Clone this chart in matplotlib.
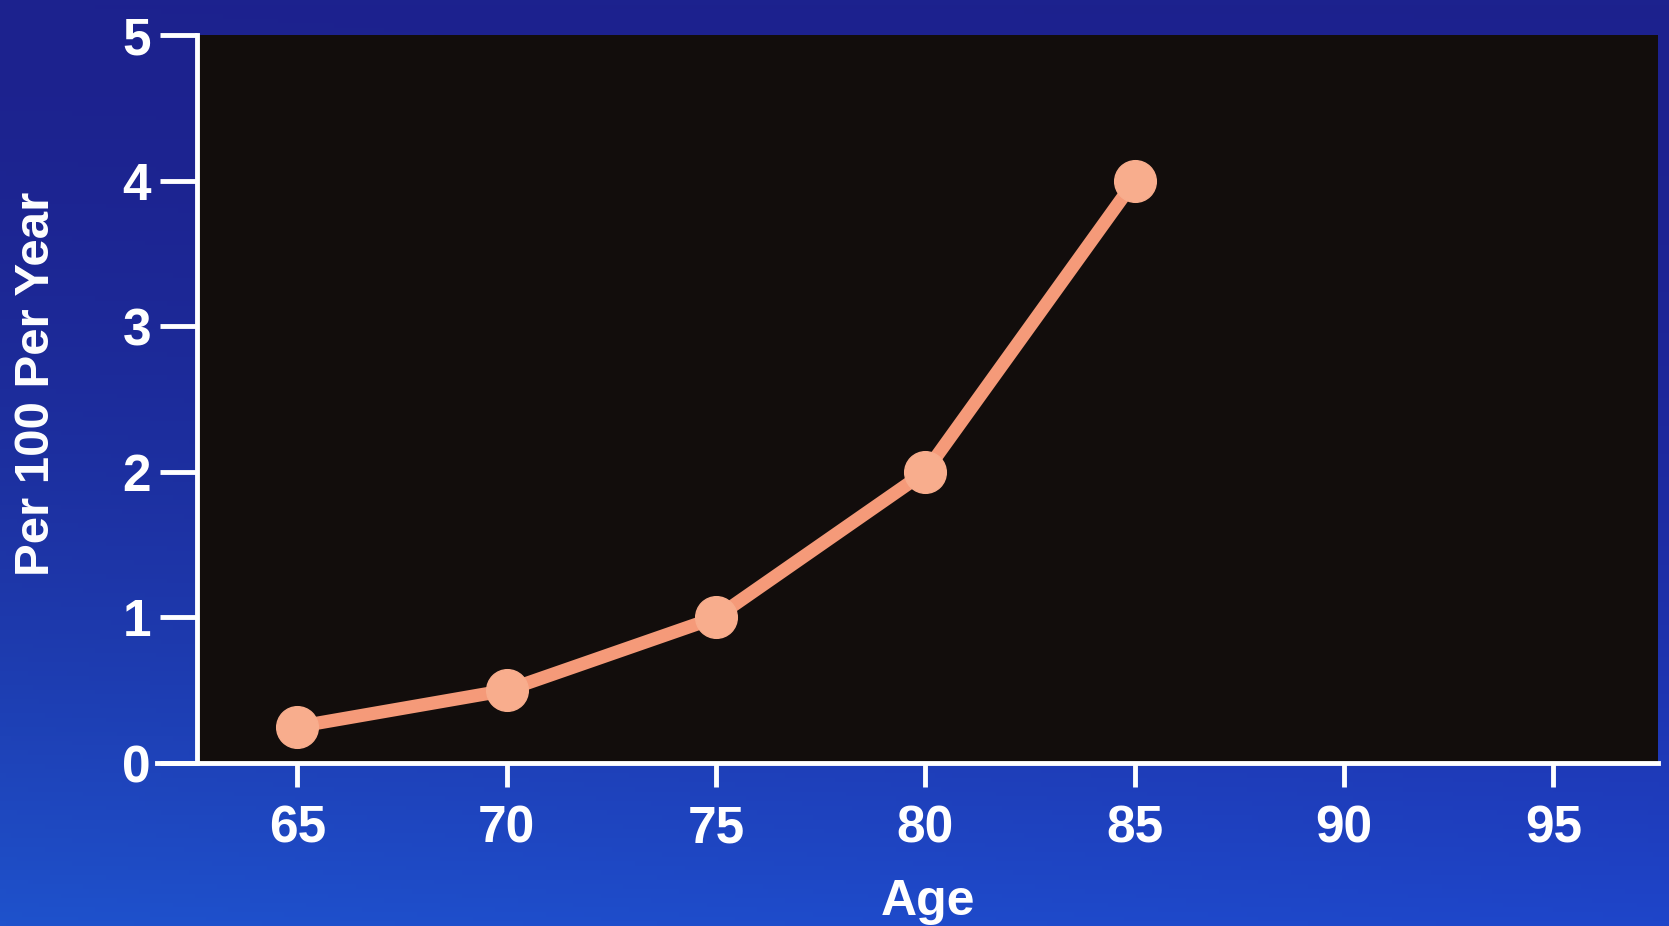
import numpy as np
import matplotlib
matplotlib.use("Agg")
import matplotlib.pyplot as plt

plt.rcParams['font.family'] = ['Liberation Sans', 'DejaVu Sans']

# incidence per 100 per year by age
age = [65, 70, 75, 80, 85]
rate = [0.25, 0.5, 1.0, 2.0, 4.0]

x_ticks = [65, 70, 75, 80, 85, 90, 95]
y_ticks = [0, 1, 2, 3, 4, 5]

fig = plt.figure(figsize=(16.69, 9.26), dpi=100)

# blue backdrop, dark navy at the top fading to brighter blue at the bottom
bg = fig.add_axes([0, 0, 1, 1], zorder=-10)
h, w = 200, 300
yy, xx = np.mgrid[0:1:h * 1j, 0:1:w * 1j]
top = np.array([0x1c, 0x22, 0x8e]) / 255
bottom = np.array([0x1f, 0x52, 0xcc]) / 255
t = (yy ** 1.8)[..., None]
img = top + (bottom - top) * t
img = img - (0.05 * xx * yy)[..., None] * np.array([0, 1, 0.2])
bg.imshow(np.clip(img, 0, 1), aspect='auto', extent=[0, 1, 0, 1], origin='upper')
bg.axis('off')

ax = fig.add_axes([0.118, 0.176, 0.8754, 0.786])
ax.set_facecolor('#120d0c')
ax.plot(age, rate, color='#f59a79', linewidth=9.5, marker='o', markersize=30,
        markerfacecolor='#f8ad8d', markeredgecolor='#f8ad8d', solid_capstyle='round',
        zorder=3, clip_on=False)

ax.set_xlim(62.6, 97.5)
ax.set_ylim(0, 5)
ax.set_xticks(x_ticks)
ax.set_yticks(y_ticks)

for side in ['top', 'right']:
    ax.spines[side].set_visible(False)
for side in ['left', 'bottom']:
    ax.spines[side].set_color('white')
    ax.spines[side].set_linewidth(3.5)
ax.spines['bottom'].set_bounds(61.65, 97.5)

ax.tick_params(axis='y', colors='white', length=27, width=3.5, pad=6, labelsize=37)
ax.tick_params(axis='x', colors='white', length=17, width=3.5, pad=13, labelsize=37)
for lab in ax.get_xticklabels() + ax.get_yticklabels():
    lab.set_fontweight('bold')

fig.text(0.556, 0.026, 'Age', color='white', fontsize=36, fontweight='bold',
         ha='center', va='center')
fig.text(0.022, 0.585, 'Per 100 Per Year', color='white', fontsize=35.5, fontweight='bold',
         ha='center', va='center', rotation=90)

fig.savefig('out.png', dpi=100, facecolor=fig.get_facecolor())
